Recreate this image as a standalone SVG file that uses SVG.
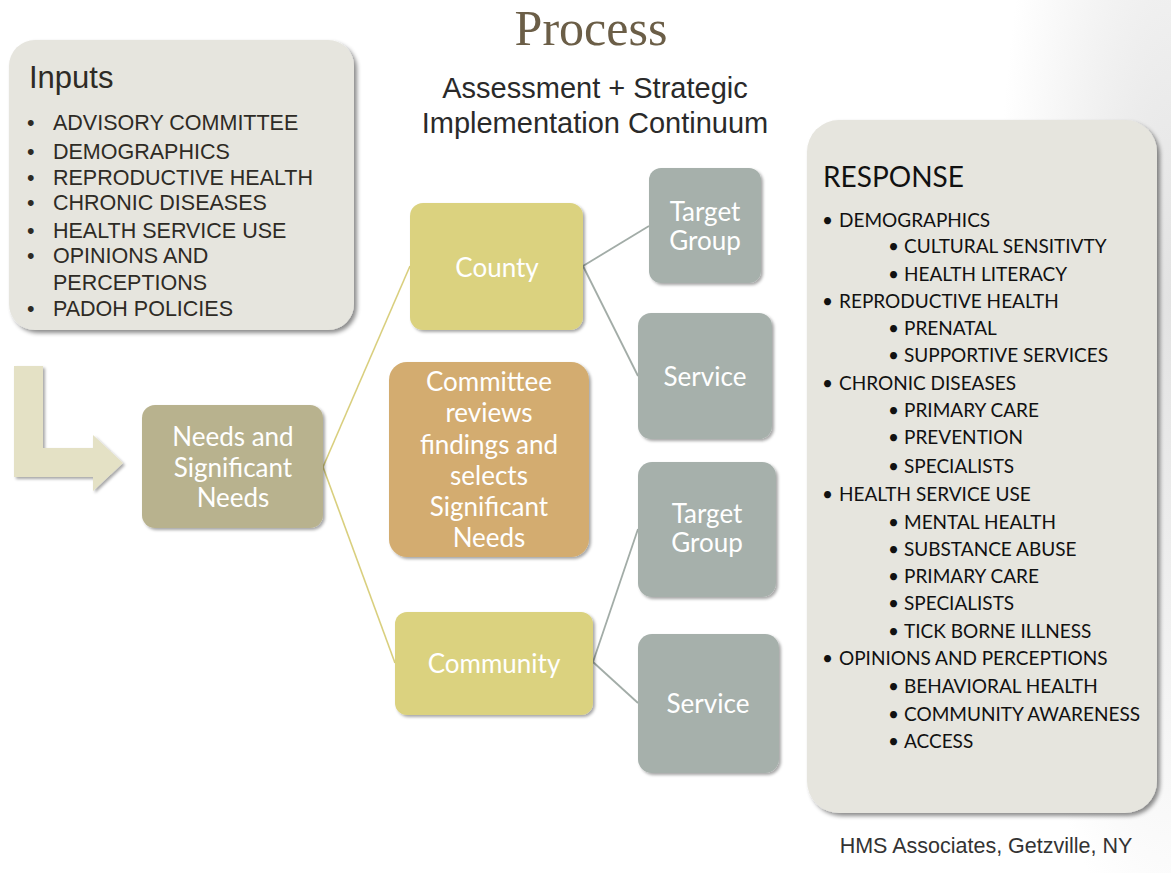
<svg xmlns="http://www.w3.org/2000/svg" width="1171" height="873" viewBox="0 0 1171 873">
<defs>
<radialGradient id="bg" cx="1171" cy="300" r="500" gradientUnits="userSpaceOnUse" gradientTransform="translate(1171 300) scale(0.35 1.3) translate(-1171 -300)">
<stop offset="0" stop-color="#e2e2e2"/>
<stop offset="1" stop-color="#ffffff"/>
</radialGradient>
<filter id="sh" x="-10%" y="-10%" width="125%" height="125%">
<feDropShadow dx="3" dy="3" stdDeviation="2" flood-color="#000" flood-opacity="0.45"/>
</filter>
<filter id="shs" x="-10%" y="-10%" width="125%" height="125%">
<feDropShadow dx="2" dy="2" stdDeviation="1.6" flood-color="#000" flood-opacity="0.35"/>
</filter>
</defs>
<style>
.panel{fill:#e6e5de;filter:url(#sh)}
.in{font-family:"Liberation Sans",Arial,sans-serif;font-size:21.5px;fill:#2e2b25}
.rs{font-family:Lato,"Open Sans",sans-serif;font-size:19px;fill:#111}
.nt{font-family:Lato,"Open Sans",sans-serif;font-size:26px;fill:#fff;text-anchor:middle}
.gray{fill:#a6b0ab;filter:url(#shs)}
.yel{fill:#dbd27f;filter:url(#shs)}
.cy{stroke:#d9cf7e;stroke-width:1.6;fill:none}
.cg{stroke:#a2aca7;stroke-width:1.8;fill:none}
</style>
<rect width="1171" height="873" fill="#fff"/>
<rect x="900" y="0" width="271" height="873" fill="url(#bg)"/>

<text x="591" y="45" text-anchor="middle" font-family="'Liberation Serif',serif" font-size="50" fill="#6b5e47">Process</text>
<text x="595" y="98" text-anchor="middle" font-family="'Liberation Sans',Arial,sans-serif" font-size="29" fill="#2a2a2a">Assessment + Strategic</text>
<text x="595" y="133" text-anchor="middle" font-family="'Liberation Sans',Arial,sans-serif" font-size="29" fill="#2a2a2a">Implementation Continuum</text>

<g id="inputs">
<rect class="panel" x="9" y="40" width="345" height="290" rx="26"/>
<text x="29" y="88" font-family="'Liberation Sans',Arial,sans-serif" font-size="31" fill="#2e2b25">Inputs</text>
<g class="in">
<text x="27" y="130">•</text><text x="53" y="130">ADVISORY COMMITTEE</text>
<text x="27" y="159">•</text><text x="53" y="159">DEMOGRAPHICS</text>
<text x="27" y="185">•</text><text x="53" y="185">REPRODUCTIVE HEALTH</text>
<text x="27" y="210">•</text><text x="53" y="210">CHRONIC DISEASES</text>
<text x="27" y="238">•</text><text x="53" y="238">HEALTH SERVICE USE</text>
<text x="27" y="263">•</text><text x="53" y="263">OPINIONS AND</text>
<text x="53" y="290">PERCEPTIONS</text>
<text x="27" y="316">•</text><text x="53" y="316">PADOH POLICIES</text>
</g>
</g>

<g id="arrow">
<polygon points="14,366 43,366 43,448 93,448 93,435 123,463 93,491 93,477 14,477" fill="#e4e1c5" filter="url(#shs)"/>
</g>

<g id="connectors">
<line class="cy" x1="323" y1="467" x2="410" y2="266"/>
<line class="cy" x1="323" y1="467" x2="395" y2="663"/>
<line class="cg" x1="583" y1="266" x2="649" y2="226"/>
<line class="cg" x1="583" y1="266" x2="638" y2="376"/>
<line class="cg" x1="593" y1="662" x2="638" y2="529"/>
<line class="cg" x1="593" y1="662" x2="638" y2="703"/>
</g>

<g id="needs">
<rect x="142" y="405" width="181" height="123" rx="13" fill="#b8b28e" filter="url(#shs)"/>
<text class="nt" x="233" y="446">Needs and</text>
<text class="nt" x="233" y="477">Significant</text>
<text class="nt" x="233" y="507">Needs</text>
</g>

<g id="county">
<rect class="yel" x="410" y="203" width="173" height="127" rx="13"/>
<text class="nt" x="497" y="277">County</text>
</g>

<g id="committee">
<rect x="389" y="362" width="200" height="195" rx="18" fill="#d3ac6f" filter="url(#shs)"/>
<text class="nt" x="489" y="391">Committee</text>
<text class="nt" x="489" y="422">reviews</text>
<text class="nt" x="489" y="454">findings and</text>
<text class="nt" x="489" y="485">selects</text>
<text class="nt" x="489" y="516">Significant</text>
<text class="nt" x="489" y="547">Needs</text>
</g>

<g id="community">
<rect class="yel" x="395" y="612" width="198" height="103" rx="12"/>
<text class="nt" x="494" y="673">Community</text>
</g>

<g id="target1">
<rect class="gray" x="649" y="168" width="112" height="115" rx="12"/>
<text class="nt" x="705" y="221">Target</text>
<text class="nt" x="705" y="250">Group</text>
</g>

<g id="service1">
<rect class="gray" x="638" y="313" width="134" height="126" rx="13"/>
<text class="nt" x="705" y="386">Service</text>
</g>

<g id="target2">
<rect class="gray" x="638" y="462" width="138" height="135" rx="14"/>
<text class="nt" x="707" y="523">Target</text>
<text class="nt" x="707" y="552">Group</text>
</g>

<g id="service2">
<rect class="gray" x="638" y="634" width="141" height="139" rx="14"/>
<text class="nt" x="708" y="713">Service</text>
</g>

<g id="response">
<rect class="panel" x="807" y="120" width="350" height="693" rx="32"/>
<text x="823" y="187" font-family="Lato,'Open Sans',sans-serif" font-size="28" fill="#111">RESPONSE</text>
<g class="rs">
<text x="822" y="227">•</text><text x="839" y="227">DEMOGRAPHICS</text>
<text x="888" y="253">•</text><text x="904" y="253">CULTURAL SENSITIVTY</text>
<text x="888" y="281">•</text><text x="904" y="281">HEALTH LITERACY</text>
<text x="822" y="308">•</text><text x="839" y="308">REPRODUCTIVE HEALTH</text>
<text x="888" y="335">•</text><text x="904" y="335">PRENATAL</text>
<text x="888" y="362">•</text><text x="904" y="362">SUPPORTIVE SERVICES</text>
<text x="822" y="390">•</text><text x="839" y="390">CHRONIC DISEASES</text>
<text x="888" y="417">•</text><text x="904" y="417">PRIMARY CARE</text>
<text x="888" y="444">•</text><text x="904" y="444">PREVENTION</text>
<text x="888" y="473">•</text><text x="904" y="473">SPECIALISTS</text>
<text x="822" y="501">•</text><text x="839" y="501">HEALTH SERVICE USE</text>
<text x="888" y="529">•</text><text x="904" y="529">MENTAL HEALTH</text>
<text x="888" y="556">•</text><text x="904" y="556">SUBSTANCE ABUSE</text>
<text x="888" y="583">•</text><text x="904" y="583">PRIMARY CARE</text>
<text x="888" y="610">•</text><text x="904" y="610">SPECIALISTS</text>
<text x="888" y="638">•</text><text x="904" y="638">TICK BORNE ILLNESS</text>
<text x="822" y="665">•</text><text x="839" y="665">OPINIONS AND PERCEPTIONS</text>
<text x="888" y="693">•</text><text x="904" y="693">BEHAVIORAL HEALTH</text>
<text x="888" y="721">•</text><text x="904" y="721">COMMUNITY AWARENESS</text>
<text x="888" y="748">•</text><text x="904" y="748">ACCESS</text>
</g>
</g>

<text x="986" y="853" text-anchor="middle" font-family="'Liberation Sans',Arial,sans-serif" font-size="21.5" fill="#333">HMS Associates, Getzville, NY</text>
</svg>
